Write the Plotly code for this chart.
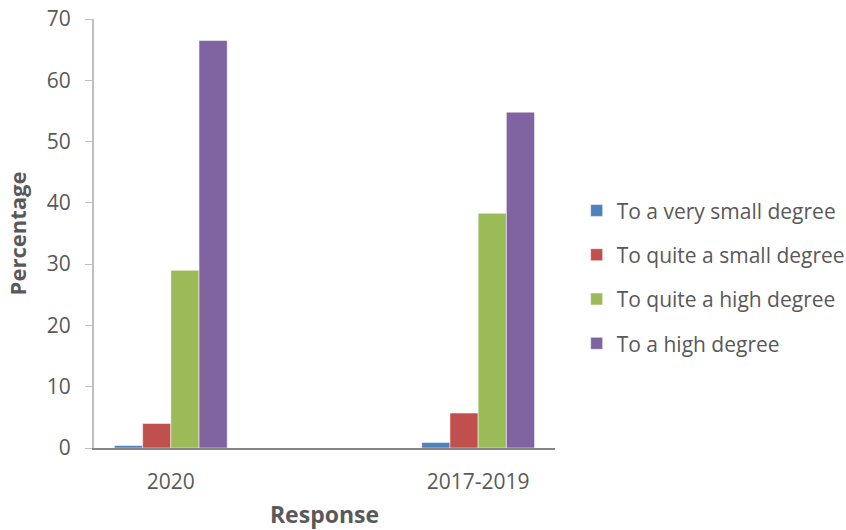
import plotly.graph_objects as go

# categories (middle slot is the empty gap category of the original chart)
categories = ["2020", "", "2017-2019"]
series_names = [
    "To a very small degree",
    "To quite a small degree",
    "To quite a high degree",
    "To a high degree",
]
very_small = [0.4, None, 0.9]
quite_small = [4.0, None, 5.7]
quite_high = [29.0, None, 38.3]
high = [66.5, None, 54.8]

colors = ["#4F81BD", "#C0504D", "#9BBB59", "#8064A2"]
TEXT = "#595959"
FONT = "Open Sans"

fig = go.Figure()
for i, (name, vals) in enumerate(zip(series_names, [very_small, quite_small, quite_high, high])):
    fig.add_trace(
        go.Bar(
            x=list(range(len(categories))),
            y=vals,
            name=name,
            legendgroup=name,
            marker=dict(color=colors[i], line=dict(color="rgba(255,255,255,0.5)", width=1)),
        )
    )

fig.update_layout(
    width=846,
    height=530,
    margin=dict(l=94, r=291, t=19, b=82, autoexpand=False),
    paper_bgcolor="white",
    plot_bgcolor="white",
    barmode="group",
    bargap=0.266,
    bargroupgap=0,
    font=dict(family=FONT, size=21, color=TEXT),
    legend=dict(
        x=1.047,
        xanchor="left",
        y=0.398,
        yanchor="middle",
        tracegroupgap=14,
        font=dict(size=21, color=TEXT),
        itemwidth=30,
    ),
    xaxis=dict(
        range=[-0.5, 2.5],
        tickmode="array",
        tickvals=[0, 2],
        ticktext=[categories[0], categories[2]],
        showline=True,
        linecolor="#868686",
        linewidth=2,
        ticks="",
        ticklabelstandoff=14,
        showgrid=False,
        zeroline=False,
        automargin=False,
        title=dict(text="<b>Response</b>", font=dict(size=23, color=TEXT), standoff=16),
    ),
    yaxis=dict(
        range=[0, 70],
        dtick=10,
        showline=True,
        linecolor="#BFBFBF",
        linewidth=2,
        ticks="outside",
        ticklen=7,
        tickcolor="#BFBFBF",
        ticklabelstandoff=10,
        ticklabeloverflow="allow",
        showgrid=False,
        zeroline=False,
        automargin=False,
        title=dict(text="<b>Percentage</b>", font=dict(size=22, color=TEXT), standoff=14),
    ),
)

# drop the default 8px body margin so the figure fills the window exactly
fig.write_html(
    "out.html",
    config={"displayModeBar": False},
    post_script="document.body.style.margin='0';",
)
